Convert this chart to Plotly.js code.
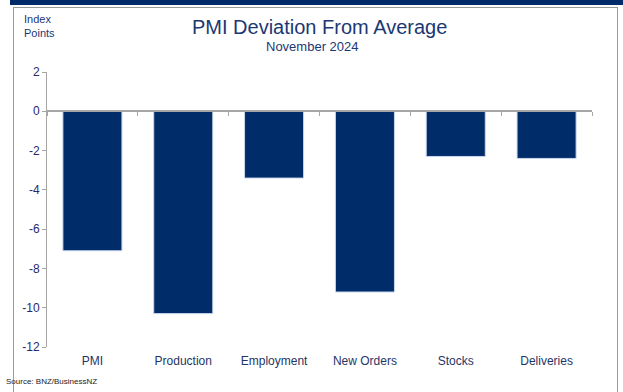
<!DOCTYPE html>
<html>
<head>
<meta charset="utf-8">
<script src="https://cdn.plot.ly/plotly-3.0.1.min.js"></script>
<style>
  html, body { margin: 0; padding: 0; background: #fff; }
  #wrap { position: relative; width: 623px; height: 392px; overflow: hidden; }
  #chart { position: absolute; left: 0; top: 0; width: 623px; height: 392px; }
  #band { position: absolute; left: 10px; top: 0; width: 613px; height: 5px; background: #002b6b; }
  #frame { position: absolute; left: 13px; top: 7px; width: 603px; height: 400px; border: 1px solid #9a9a9a; pointer-events: none; }
</style>
</head>
<body>
<div id="wrap">
  <div id="band"></div>
  <div id="frame"></div>
  <div id="chart"></div>
</div>
<script>
const categories = ["PMI", "Production", "Employment", "New Orders", "Stocks", "Deliveries"];
const deviation = [-7.1, -10.3, -3.4, -9.2, -2.3, -2.4];
const yTicks = [2, 0, -2, -4, -6, -8, -10, -12];

const navy = "#002d6a";
const textCol = "#1f3566";
const font = "Liberation Sans, Arial, sans-serif";

const traces = [
  {
    type: "bar",
    x: categories,
    y: deviation,
    marker: { color: navy, line: { color: "#c9d6ec", width: 1 } },
    hoverinfo: "skip",
    xaxis: "x",
    yaxis: "y"
  },
  {
    type: "scatter",
    mode: "none",
    x: categories,
    y: deviation,
    hoverinfo: "skip",
    showlegend: false,
    xaxis: "x2",
    yaxis: "y"
  }
];

const layout = {
  width: 623,
  height: 392,
  margin: { l: 47, r: 31, t: 72, b: 45 },
  paper_bgcolor: "rgba(0,0,0,0)",
  plot_bgcolor: "rgba(0,0,0,0)",
  showlegend: false,
  bargap: 0.35,
  font: { family: font, color: textCol },
  xaxis: {
    type: "category",
    categoryarray: categories,
    range: [-0.5, 5.5],
    showline: false,
    showgrid: false,
    zeroline: false,
    ticks: "outside",
    ticklen: 3,
    tickcolor: "rgba(0,0,0,0)",
    tickfont: { size: 12, color: textCol, family: font },
    fixedrange: true
  },
  xaxis2: {
    type: "category",
    categoryarray: categories,
    range: [-0.5, 5.5],
    overlaying: "x",
    anchor: "free",
    position: 12 / 14,
    side: "bottom",
    showline: true,
    linecolor: "#a6a6a6",
    linewidth: 2,
    showgrid: false,
    zeroline: false,
    ticks: "outside",
    tickson: "boundaries",
    ticklen: 4,
    tickcolor: "#a6a6a6",
    showticklabels: false,
    fixedrange: true
  },
  yaxis: {
    range: [-12, 2],
    tickvals: yTicks,
    ticktext: yTicks.map(String),
    showline: true,
    linecolor: "#a6a6a6",
    linewidth: 1,
    showgrid: false,
    zeroline: false,
    ticks: "outside",
    ticklen: 4,
    tickcolor: "#a6a6a6",
    tickfont: { size: 12, color: "#2a2a6a", family: font },
    fixedrange: true
  },
  annotations: [
    {
      text: "PMI Deviation From Average",
      xref: "paper", yref: "paper",
      x: (319 - 47) / 545, y: (347 - 27) / 275,
      xanchor: "center", yanchor: "middle",
      showarrow: false,
      font: { size: 20, color: "#1c3773", family: font }
    },
    {
      text: "November 2024",
      xref: "paper", yref: "paper",
      x: (312 - 47) / 545, y: (347 - 46) / 275,
      xanchor: "center", yanchor: "middle",
      showarrow: false,
      font: { size: 13, color: "#1c3773", family: font }
    },
    {
      text: "Index<br>Points",
      xref: "paper", yref: "paper",
      x: (22 - 47) / 545, y: (347 - 11) / 275,
      xanchor: "left", yanchor: "top",
      align: "left",
      showarrow: false,
      font: { size: 11, color: "#1c3773", family: font }
    },
    {
      text: "Source: BNZ/BusinessNZ",
      xref: "paper", yref: "paper",
      x: (4 - 47) / 545, y: (347 - 381) / 275,
      xanchor: "left", yanchor: "middle",
      showarrow: false,
      font: { size: 8, color: "#222222", family: font }
    }
  ]
};

Plotly.newPlot("chart", traces, layout, { staticPlot: true, displayModeBar: false });
</script>
</body>
</html>
